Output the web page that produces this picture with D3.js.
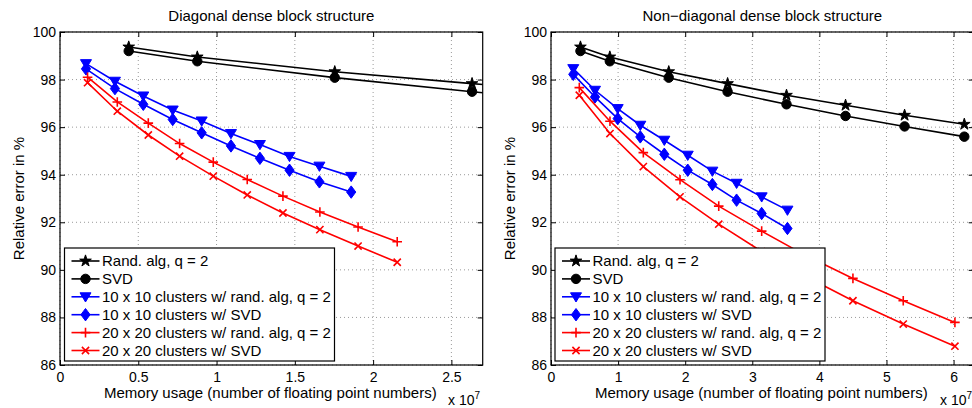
<!DOCTYPE html>
<html>
<head>
<meta charset="utf-8">
<script src="https://cdn.jsdelivr.net/npm/d3@7"></script>
<style>
  body { margin: 0; background: #fff; }
  svg { display: block; font-family: "Liberation Sans", Arial, Helvetica, sans-serif; }
</style>
</head>
<body>
<svg id="svg" width="972" height="408"></svg>
<script>
// memory usage in units of 1e7 floats, relative error in %
const blackMem = [0.439, 0.877, 1.755, 2.632, 3.51, 4.39, 5.27, 6.16];
const randBlack = [99.37, 98.95, 98.33, 97.83, 97.34, 96.92, 96.5, 96.12];
const svdBlack = [99.2, 98.77, 98.08, 97.49, 96.96, 96.47, 96.03, 95.6];

const diagMem10 = [0.166, 0.351, 0.532, 0.72, 0.905, 1.092, 1.277, 1.466, 1.657, 1.86];
const diag10Rand = [98.67, 97.93, 97.31, 96.72, 96.26, 95.73, 95.27, 94.77, 94.36, 93.93];
const diag10Svd = [98.45, 97.62, 96.96, 96.32, 95.76, 95.21, 94.69, 94.19, 93.7, 93.27];
const diagMem20 = [0.176, 0.366, 0.564, 0.764, 0.979, 1.196, 1.424, 1.66, 1.904, 2.154];
const diag20Rand = [98.1, 97.06, 96.17, 95.31, 94.53, 93.8, 93.1, 92.43, 91.8, 91.18];
const diag20Svd = [97.87, 96.67, 95.67, 94.78, 93.94, 93.15, 92.39, 91.69, 91.0, 90.32];

const offMem10 = [0.332, 0.656, 0.994, 1.331, 1.689, 2.038, 2.405, 2.766, 3.14, 3.524];
const off10Rand = [98.46, 97.55, 96.78, 96.08, 95.45, 94.82, 94.15, 93.64, 93.07, 92.51];
const off10Svd = [98.22, 97.27, 96.36, 95.59, 94.86, 94.19, 93.59, 92.93, 92.37, 91.74];
const offMem20 = [0.422, 0.879, 1.376, 1.923, 2.5, 3.14, 3.8, 4.5, 5.25, 6.02];
const off20Rand = [97.66, 96.25, 94.93, 93.79, 92.68, 91.63, 90.6, 89.64, 88.7, 87.79];
const off20Svd = [97.34, 95.73, 94.34, 93.07, 91.92, 90.77, 89.72, 88.7, 87.72, 86.79];

const legendLabels = [
  "Rand. alg, q = 2",
  "SVD",
  "10 x 10 clusters w/ rand. alg, q = 2",
  "10 x 10 clusters w/ SVD",
  "20 x 20 clusters w/ rand. alg, q = 2",
  "20 x 20 clusters w/ SVD"
];
const seriesColors = ["#000", "#000", "#0000ff", "#0000ff", "#ff0000", "#ff0000"];
const seriesMarkers = ["star", "circle", "triDown", "diamond", "plus", "cross"];

const yTicks = [86, 88, 90, 92, 94, 96, 98, 100];
const xTicksLeft = [0, 0.5, 1, 1.5, 2, 2.5];
const xTicksRight = [0, 1, 2, 3, 4, 5, 6];

const svg = d3.select("#svg");

function markerPath(kind) {
  if (kind == "star") return d3.symbol(d3.symbolStar, 42)();
  if (kind == "circle") return d3.symbol(d3.symbolCircle, 70)();
  if (kind == "triDown") return "M-5.5,-4L5.5,-4L0,5.2Z";
  if (kind == "diamond") return "M0,-6.2L4.6,0L0,6.2L-4.6,0Z";
  if (kind == "plus") return "M-4.8,0H4.8M0,-4.8V4.8";
  return "M-3.6,-3.6L3.6,3.6M-3.6,3.6L3.6,-3.6";
}

function drawMarker(g, kind, color, x, y) {
  var open = kind == "plus" || kind == "cross";
  g.append("path")
    .attr("d", markerPath(kind))
    .attr("transform", `translate(${x},${y})`)
    .attr("fill", open ? "none" : color)
    .attr("stroke", color)
    .attr("stroke-width", open ? 1.6 : 1);
}

function drawPanel(cfg) {
  var g = svg.append("g");
  var xScale = d3.scaleLinear().domain([0, cfg.xMax]).range([cfg.left, cfg.right]);
  var yScale = d3.scaleLinear().domain([86, 100]).range([365, 32]);

  var clipId = "clip" + cfg.id;
  svg.append("clipPath").attr("id", clipId)
    .append("rect")
    .attr("x", cfg.left).attr("y", 32)
    .attr("width", cfg.right - cfg.left).attr("height", 333);

  // dotted grid
  var grid = g.append("g").attr("stroke", "#9a9a9a").attr("stroke-dasharray", "1,3");
  cfg.xTicks.forEach(t => {
    grid.append("line")
      .attr("x1", xScale(t)).attr("x2", xScale(t))
      .attr("y1", 32).attr("y2", 365);
  });
  yTicks.forEach(t => {
    grid.append("line")
      .attr("x1", cfg.left).attr("x2", cfg.right)
      .attr("y1", yScale(t)).attr("y2", yScale(t));
  });

  // series
  var plot = g.append("g").attr("clip-path", `url(#${clipId})`);
  var line = d3.line().x(d => xScale(d[0])).y(d => yScale(d[1]));
  cfg.series.forEach((s, i) => {
    var pts = s.x.map((v, j) => [v, s.y[j]]);
    plot.append("path")
      .attr("d", line(pts))
      .attr("fill", "none")
      .attr("stroke", seriesColors[i])
      .attr("stroke-width", 1.6);
    pts.forEach(p => drawMarker(plot, seriesMarkers[i], seriesColors[i], xScale(p[0]), yScale(p[1])));
  });

  // axes, ticks inward on all four sides
  var font = "14px";
  var yAxis = g.append("g")
    .attr("transform", `translate(${cfg.left},0)`)
    .call(d3.axisLeft(yScale).tickValues(yTicks).tickSizeInner(-5).tickSizeOuter(0).tickPadding(4));
  var yAxisR = g.append("g")
    .attr("transform", `translate(${cfg.right},0)`)
    .call(d3.axisRight(yScale).tickValues(yTicks).tickSizeInner(-5).tickSizeOuter(0).tickFormat(""));
  var xAxis = g.append("g")
    .attr("transform", "translate(0,365)")
    .call(d3.axisBottom(xScale).tickValues(cfg.xTicks).tickSizeInner(-5).tickSizeOuter(0).tickPadding(7).tickFormat(d3.format("")));
  var xAxisT = g.append("g")
    .attr("transform", "translate(0,32)")
    .call(d3.axisTop(xScale).tickValues(cfg.xTicks).tickSizeInner(-5).tickSizeOuter(0).tickFormat(""));
  [yAxis, yAxisR, xAxis, xAxisT].forEach(a => {
    a.select(".domain").remove();
    a.selectAll(".tick line").attr("stroke", "#000");
    a.selectAll("text").attr("fill", "#000").style("font-size", font).style("font-family", null);
    a.attr("font-family", null);
  });

  g.append("rect")
    .attr("x", cfg.left).attr("y", 32)
    .attr("width", cfg.right - cfg.left).attr("height", 333)
    .attr("fill", "none").attr("stroke", "#000").attr("stroke-width", 1.2);

  // labels
  g.append("text")
    .attr("x", (cfg.left + cfg.right) / 2).attr("y", 20.5)
    .attr("text-anchor", "middle").style("font-size", "15px")
    .text(cfg.title);
  g.append("text")
    .attr("x", (cfg.left + cfg.right) / 2 - 1).attr("y", 398)
    .attr("text-anchor", "middle").style("font-size", "15px")
    .text("Memory usage (number of floating point numbers)");
  g.append("text")
    .attr("transform", `translate(${cfg.left - 36},198.5) rotate(-90)`)
    .attr("text-anchor", "middle").style("font-size", "15px")
    .text("Relative error in %");
  var exp = g.append("text")
    .attr("x", cfg.expX).attr("y", 404.5)
    .style("font-size", "14px");
  exp.append("tspan").text("x 10");
  exp.append("tspan").attr("dy", -6).style("font-size", "10px").text("7");

  // legend
  var lg = g.append("g").attr("transform", `translate(${cfg.legX},248)`);
  lg.append("rect")
    .attr("width", 270).attr("height", 113)
    .attr("fill", "#fff").attr("stroke", "#000").attr("stroke-width", 1.2);
  legendLabels.forEach((label, i) => {
    var cy = 13 + i * 17.9;
    lg.append("line")
      .attr("x1", 7).attr("x2", 35).attr("y1", cy).attr("y2", cy)
      .attr("stroke", seriesColors[i]).attr("stroke-width", 1.6);
    drawMarker(lg, seriesMarkers[i], seriesColors[i], 21, cy);
    lg.append("text")
      .attr("x", 37.5).attr("y", cy + 5.4)
      .style("font-size", "15px")
      .text(label);
  });
}

drawPanel({
  id: "L", left: 60, right: 482.7, xMax: 2.7, xTicks: xTicksLeft,
  title: "Diagonal dense block structure", expX: 448, legX: 64.5,
  series: [
    { x: blackMem, y: randBlack },
    { x: blackMem, y: svdBlack },
    { x: diagMem10, y: diag10Rand },
    { x: diagMem10, y: diag10Svd },
    { x: diagMem20, y: diag20Rand },
    { x: diagMem20, y: diag20Svd }
  ]
});

drawPanel({
  id: "R", left: 551, right: 973.7, xMax: 6.3, xTicks: xTicksRight,
  title: "Non\u2212diagonal dense block structure", expX: 940, legX: 555,
  series: [
    { x: blackMem, y: randBlack },
    { x: blackMem, y: svdBlack },
    { x: offMem10, y: off10Rand },
    { x: offMem10, y: off10Svd },
    { x: offMem20, y: off20Rand },
    { x: offMem20, y: off20Svd }
  ]
});
</script>
</body>
</html>
